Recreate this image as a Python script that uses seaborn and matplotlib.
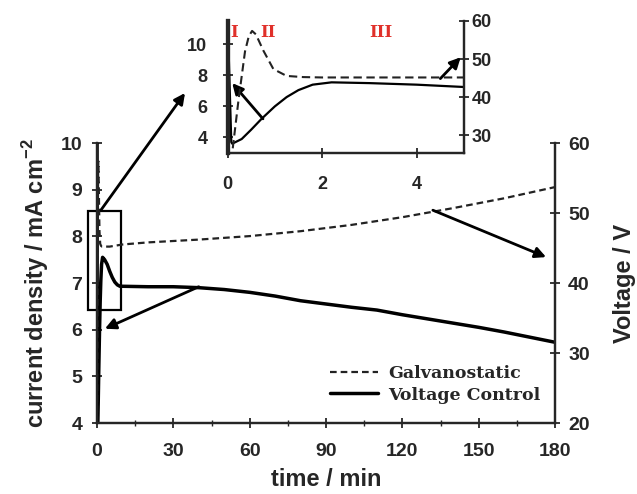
import matplotlib
matplotlib.use("Agg")
import matplotlib.pyplot as plt
import seaborn as sns
import numpy as np
import pandas as pd
from matplotlib.patches import Rectangle
from matplotlib.ticker import MultipleLocator

sns.set_style("ticks")
plt.rcParams['font.family'] = ['Liberation Sans', 'DejaVu Sans']
plt.rcParams['font.weight'] = 'bold'
plt.rcParams['mathtext.fontset'] = 'custom'
plt.rcParams['mathtext.bf'] = 'Liberation Sans:bold'
plt.rcParams['mathtext.rm'] = 'Liberation Sans:bold'

# ---- data ----
# Voltage Control: current density (mA cm^-2) vs time (min)
t_cur = [0, 0.08, 0.1, 0.3, 0.5, 0.72, 1.0, 1.25, 1.5, 1.8, 2.2, 3.0, 4.0, 5.0,
         6.0, 7.0, 8.0, 9.0, 10, 20, 30, 40, 50, 60, 70, 80, 90, 100, 110,
         120, 130, 140, 150, 160, 170, 180]
j_cur = [12, 3.7, 3.6, 3.9, 4.5, 5.2, 6.0, 6.6, 7.05, 7.4, 7.55, 7.5, 7.4, 7.25,
         7.12, 7.02, 6.96, 6.93, 6.93, 6.92, 6.92, 6.9, 6.86, 6.8, 6.72, 6.62,
         6.55, 6.48, 6.42, 6.32, 6.23, 6.14, 6.05, 5.95, 5.84, 5.73]
# Galvanostatic: voltage (V) vs time (min)
t_volt = [0, 0.1, 0.23, 0.37, 0.45, 0.52, 0.6, 0.76, 0.97, 1.25, 1.6, 2, 3, 4, 5,
          10, 20, 40, 60, 80, 100, 120, 140, 160, 180]
v_volt = [20, 25.5, 39, 52, 56, 57.4, 56.5, 52.2, 47.4, 45.6, 45.3, 45.2, 45.2,
          45.2, 45.2, 45.5, 45.8, 46.2, 46.7, 47.4, 48.3, 49.4, 50.7, 52.1, 53.7]

x_ticks = [0, 30, 60, 90, 120, 150, 180]
left_ticks = [4, 5, 6, 7, 8, 9, 10]
right_ticks = [20, 30, 40, 50, 60]
inset_x_ticks = [0, 2, 4]
inset_left_ticks = [4, 6, 8, 10]
inset_right_ticks = [30, 40, 50, 60]
labels = ["Galvanostatic", "Voltage Control"]
regions = ["I", "II", "III"]
region_t = [0.14, 0.85, 3.25]

df_cur = pd.DataFrame({"t": t_cur, "j": j_cur})
df_volt = pd.DataFrame({"t": t_volt, "v": v_volt})

fig = plt.figure(figsize=(6.37, 4.94), dpi=100)
ax = fig.add_axes([97/637, 1-423/494, (555-97)/637, (423-143)/494])
ax2 = ax.twinx()

sns.lineplot(data=df_cur, x="t", y="j", ax=ax, color="black", lw=2.5,
             estimator=None, sort=False)
sns.lineplot(data=df_volt, x="t", y="v", ax=ax2, color="#222222", lw=1.6,
             estimator=None, sort=False)
ax2.lines[0].set_linestyle((0, (3.0, 1.8)))
ax.set_xlim(0, 180)
ax.set_ylim(4, 10)
ax2.set_ylim(20, 60)
ax.set_xticks(x_ticks)
ax.xaxis.set_minor_locator(MultipleLocator(15))
ax.set_yticks(left_ticks)
ax2.set_yticks(right_ticks)
for a in (ax, ax2):
    a.spines['top'].set_visible(False)
    for s in a.spines.values():
        s.set_linewidth(1.6)
    a.tick_params(direction='inout', length=7, width=1.3, labelsize=14)
    a.tick_params(which='minor', direction='inout', length=4, width=1.0)
ax.tick_params(axis='x', pad=11)
ax.tick_params(axis='y', pad=7)
ax2.tick_params(axis='y', pad=6)
ax.set_xlabel("time / min", fontsize=17, fontweight='bold', labelpad=6)
ax.set_ylabel("current density / mA cm$^{\\mathbf{-2}}$", fontsize=17,
              fontweight='bold', labelpad=7)
ax2.set_ylabel("Voltage / V", fontsize=17, fontweight='bold', labelpad=17)

# highlight box
ax.add_patch(Rectangle((-3.5, 6.42), 12.9, 2.12, fill=False, lw=1.6,
                       ec='black', clip_on=False, zorder=5))

arrow = dict(arrowstyle='-|>', color='black', lw=2.0, mutation_scale=16,
             shrinkA=0, shrinkB=0)
ax.annotate("", xy=(3.1, 6.02), xytext=(40, 6.92), arrowprops=arrow)
ax2.annotate("", xy=(176.5, 43.7), xytext=(132, 50.4), arrowprops=arrow)
fig.add_artist(matplotlib.patches.FancyArrowPatch(
    (101/637, 1-210/494), (185/637, 1-93/494), transform=fig.transFigure,
    **arrow))

# legend
h = [ax2.lines[0], ax.lines[0]]
leg = ax2.legend(h, labels, loc='center', bbox_to_anchor=(0.683, 0.222),
                 bbox_transform=fig.transFigure, frameon=False,
                 handlelength=2.8, handletextpad=0.55, labelspacing=0.25,
                 prop={'family': 'DejaVu Serif', 'weight': 'bold', 'size': 12.5})

# ---- inset ----
ia = fig.add_axes([227.5/637, 1-153/494, (464-227.5)/637, (153-21)/494])
ia2 = ia.twinx()
sns.lineplot(data=df_cur, x="t", y="j", ax=ia, color="black", lw=1.6,
             estimator=None, sort=False)
sns.lineplot(data=df_volt, x="t", y="v", ax=ia2, color="#222222", lw=1.5,
             estimator=None, sort=False)
ia2.lines[0].set_linestyle((0, (4.0, 2.2)))
ia.set_xlim(0, 5)
ia.set_ylim(3, 11.5)
ia2.set_ylim(25.4, 60)
ia.set_xticks(inset_x_ticks)
ia.set_yticks(inset_left_ticks)
ia2.set_yticks(inset_right_ticks)
for a in (ia, ia2):
    a.spines['top'].set_visible(False)
    for s in a.spines.values():
        s.set_linewidth(1.6)
    a.spines['left'].set_linewidth(3.0)
    a.tick_params(direction='inout', length=7, width=1.3, labelsize=13)
    a.set_xlabel("")
    a.set_ylabel("")
ia.tick_params(axis='x', pad=13)
ia.tick_params(axis='y', pad=11)
ia2.tick_params(axis='y', pad=2)
for lab, tt in zip(regions, region_t):
    ia.text(tt, 10.75, lab, color='#e0302a', fontsize=12, fontweight='bold',
            family='DejaVu Serif', ha='center', va='center')
ia.annotate("", xy=(0.1, 7.5), xytext=(0.75, 5.2), arrowprops=arrow)
ia2.annotate("", xy=(4.93, 50.5), xytext=(4.5, 44.9), arrowprops=arrow)

fig.savefig("out.png", dpi=100)
